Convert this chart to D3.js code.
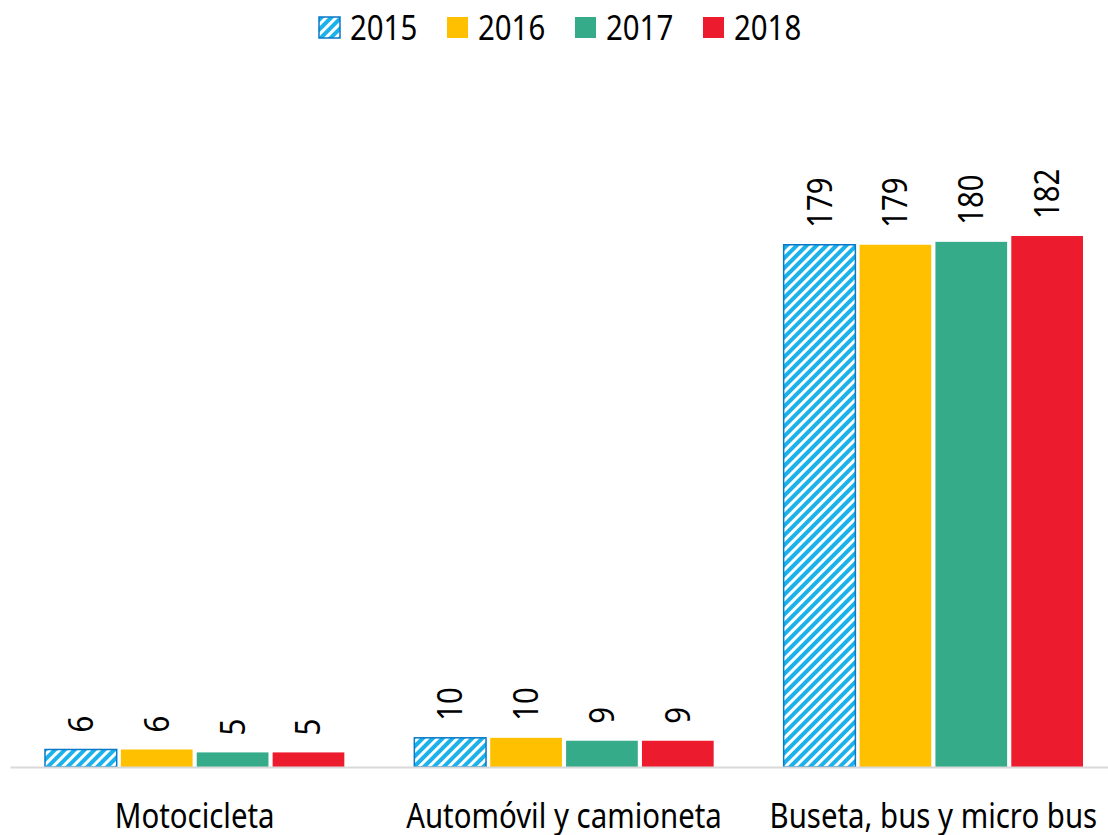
<!DOCTYPE html>
<html>
<head>
<meta charset="utf-8">
<script src="https://cdn.jsdelivr.net/npm/d3@7"></script>
<style>
  body { margin: 0; background: #fff; }
  svg text { font-family: "Noto Sans", sans-serif; fill: #000; }
</style>
</head>
<body>
<svg id="chart" width="1108" height="835"></svg>
<script>
const categories = ['Motocicleta', 'Automóvil y camioneta', 'Buseta, bus y micro bus'];
const years = ['2015', '2016', '2017', '2018'];
const values2015 = [6, 10, 179];
const values2016 = [6, 10, 179];
const values2017 = [5, 9, 180];
const values2018 = [5, 9, 182];
const seriesValues = [values2015, values2016, values2017, values2018];
const colors = ['url(#hatch)', '#FFC000', '#36AB8A', '#EC1C2E'];

const W = 1108, H = 835,
	BASE = 767, FONT = 35, SQZ = 0.84; // narrow-ish type like the original

const svg = d3.select('svg#chart');

// hatch for 2015
const pat = svg.append('defs').append('pattern')
	.attr('id', 'hatch')
	.attr('patternUnits', 'userSpaceOnUse')
	.attr('width', 7).attr('height', 7)
	.attr('patternTransform', 'rotate(45)');
pat.append('rect').attr('width', 7).attr('height', 7).attr('fill', '#fff');
pat.append('rect').attr('width', 4).attr('height', 7).attr('fill', '#1BB1EA');

const x0 = d3.scaleBand().domain(categories).range([10, 1118]).paddingInner(0).paddingOuter(0);
const x1 = d3.scaleBand().domain(years).range([35, x0.bandwidth() - 35]).paddingInner(0.055);
const y = d3.scaleLinear().domain([0, 182]).range([BASE, 236]);

const data = [];
categories.forEach((c, i) => years.forEach((yr, j) => data.push({ cat: c, year: yr, v: seriesValues[j][i], k: j })));

const g = svg.append('g');
g.selectAll('rect.bar').data(data).enter().append('rect')
	.classed('bar', true)
	.attr('x', d => x0(d.cat) + x1(d.year))
	.attr('y', d => y(d.v))
	.attr('width', x1.bandwidth())
	.attr('height', d => BASE - y(d.v))
	.attr('fill', d => colors[d.k])
	.attr('stroke', d => d.k === 0 ? '#0A78C8' : 'none')
	.attr('stroke-width', 1.5);

g.selectAll('text.val').data(data).enter().append('text')
	.classed('val', true)
	.attr('transform', d => `translate(${x0(d.cat) + x1(d.year) + x1.bandwidth() / 2 + 12},${y(d.v) - 17}) rotate(-90) scale(${SQZ},1)`)
	.attr('font-size', FONT)
	.text(d => d.v);

// axis
const xAxis = svg.append('g')
	.attr('transform', `translate(0,${BASE})`)
	.call(d3.axisBottom(x0).tickSize(0).tickPadding(0));
xAxis.select('.domain').attr('stroke', '#D9D9D9').attr('stroke-width', 2);
xAxis.selectAll('text')
	.attr('font-size', FONT).attr('font-family', '"Noto Sans", sans-serif').attr('fill', '#000')
	.attr('y', 61).attr('dy', null)
	.attr('transform', `scale(${SQZ},1)`);

// legend
const legendX = [319, 447, 575, 703];
const leg = svg.append('g').selectAll('g').data(years).enter().append('g')
	.attr('transform', (d, i) => `translate(${legendX[i]},17)`);
leg.append('rect')
	.attr('width', 21).attr('height', 21)
	.attr('fill', (d, i) => colors[i])
	.attr('stroke', (d, i) => i === 0 ? '#0A78C8' : 'none')
	.attr('stroke-width', 1.5);
leg.append('text')
	.attr('transform', `translate(31,23) scale(${SQZ},1)`)
	.attr('font-size', FONT)
	.text(d => d);
</script>
</body>
</html>
